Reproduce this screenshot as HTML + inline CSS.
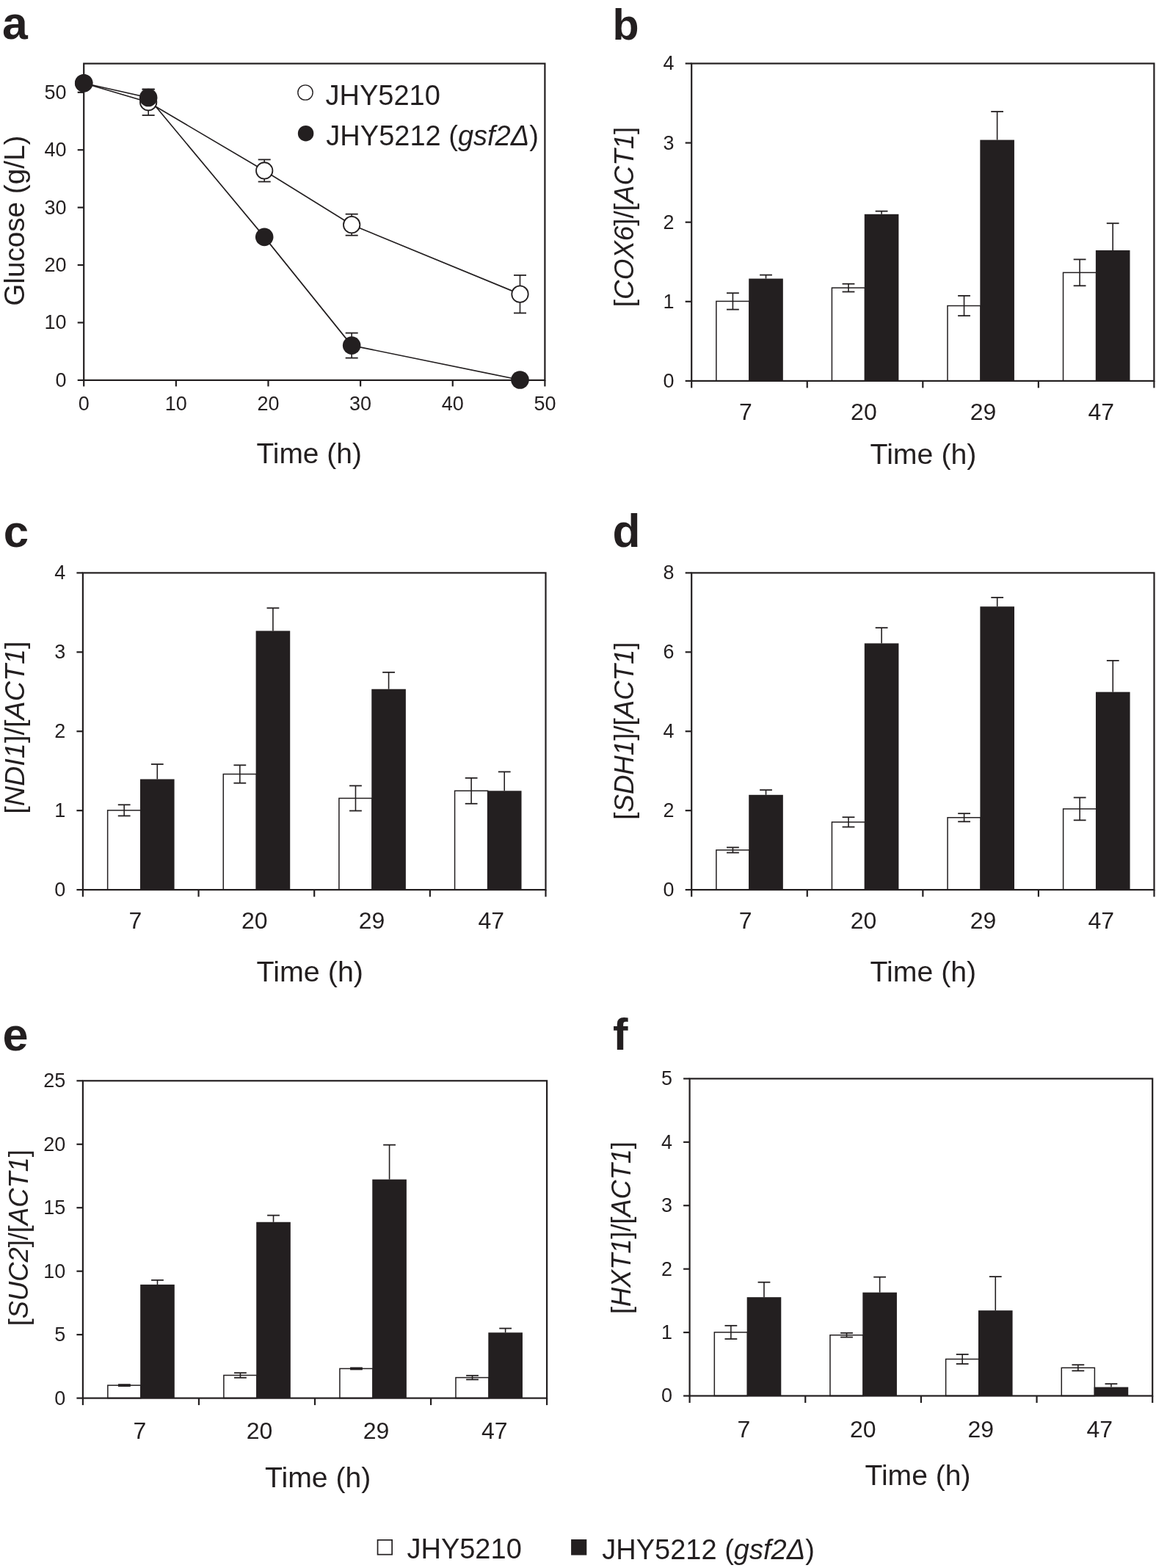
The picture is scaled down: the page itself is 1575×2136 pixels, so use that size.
<!DOCTYPE html>
<html><head><meta charset="utf-8"><title>Glucose consumption and gene expression</title>
<style>
html,body{margin:0;padding:0;background:#fff;}
svg{display:block;}
</style></head>
<body>
<svg width="1575" height="2136" viewBox="0 0 1575 2136">
<rect width="1575" height="2136" fill="#fff"/>
<g stroke="#231f20" fill="#231f20" font-family="'Liberation Sans', Arial, Helvetica, sans-serif">
<polyline points="114.20,113.26 202.15,139.30 360.20,232.46 479.18,306.17 708.48,400.66" fill="none" stroke-width="1.7"/>
<polyline points="114.20,113.26 202.15,133.02 360.20,322.87 479.18,470.61 708.48,517.51" fill="none" stroke-width="1.7"/>
<rect x="114.20" y="86.60" width="628.20" height="431.30" fill="none" stroke-width="2.2"/>
<line x1="105.70" y1="517.90" x2="114.20" y2="517.90" stroke-width="2.2"/>
<line x1="105.70" y1="439.48" x2="114.20" y2="439.48" stroke-width="2.2"/>
<line x1="105.70" y1="361.06" x2="114.20" y2="361.06" stroke-width="2.2"/>
<line x1="105.70" y1="282.65" x2="114.20" y2="282.65" stroke-width="2.2"/>
<line x1="105.70" y1="204.23" x2="114.20" y2="204.23" stroke-width="2.2"/>
<line x1="105.70" y1="125.81" x2="114.20" y2="125.81" stroke-width="2.2"/>
<line x1="114.20" y1="517.90" x2="114.20" y2="526.40" stroke-width="2.2"/>
<line x1="239.84" y1="517.90" x2="239.84" y2="526.40" stroke-width="2.2"/>
<line x1="365.48" y1="517.90" x2="365.48" y2="526.40" stroke-width="2.2"/>
<line x1="491.12" y1="517.90" x2="491.12" y2="526.40" stroke-width="2.2"/>
<line x1="616.76" y1="517.90" x2="616.76" y2="526.40" stroke-width="2.2"/>
<line x1="742.40" y1="517.90" x2="742.40" y2="526.40" stroke-width="2.2"/>
<line x1="202.15" y1="121.65" x2="202.15" y2="144.39" stroke-width="1.6"/>
<line x1="193.65" y1="121.65" x2="210.65" y2="121.65" stroke-width="1.8"/>
<line x1="193.65" y1="144.39" x2="210.65" y2="144.39" stroke-width="1.8"/>
<line x1="360.20" y1="316.60" x2="360.20" y2="329.15" stroke-width="1.6"/>
<line x1="351.70" y1="316.60" x2="368.70" y2="316.60" stroke-width="1.8"/>
<line x1="351.70" y1="329.15" x2="368.70" y2="329.15" stroke-width="1.8"/>
<line x1="479.18" y1="453.60" x2="479.18" y2="487.63" stroke-width="1.6"/>
<line x1="470.68" y1="453.60" x2="487.68" y2="453.60" stroke-width="1.8"/>
<line x1="470.68" y1="487.63" x2="487.68" y2="487.63" stroke-width="1.8"/>
<line x1="202.15" y1="121.57" x2="202.15" y2="157.02" stroke-width="1.6"/>
<line x1="193.65" y1="121.57" x2="210.65" y2="121.57" stroke-width="1.8"/>
<line x1="193.65" y1="157.02" x2="210.65" y2="157.02" stroke-width="1.8"/>
<line x1="360.20" y1="217.40" x2="360.20" y2="247.51" stroke-width="1.6"/>
<line x1="351.70" y1="217.40" x2="368.70" y2="217.40" stroke-width="1.8"/>
<line x1="351.70" y1="247.51" x2="368.70" y2="247.51" stroke-width="1.8"/>
<line x1="479.18" y1="291.66" x2="479.18" y2="320.68" stroke-width="1.6"/>
<line x1="470.68" y1="291.66" x2="487.68" y2="291.66" stroke-width="1.8"/>
<line x1="470.68" y1="320.68" x2="487.68" y2="320.68" stroke-width="1.8"/>
<line x1="708.48" y1="374.87" x2="708.48" y2="426.46" stroke-width="1.6"/>
<line x1="699.98" y1="374.87" x2="716.98" y2="374.87" stroke-width="1.8"/>
<line x1="699.98" y1="426.46" x2="716.98" y2="426.46" stroke-width="1.8"/>
<circle cx="114.20" cy="113.26" r="11.2" fill="#fff" stroke-width="1.8"/>
<circle cx="202.15" cy="139.30" r="11.2" fill="#fff" stroke-width="1.8"/>
<circle cx="360.20" cy="232.46" r="11.2" fill="#fff" stroke-width="1.8"/>
<circle cx="479.18" cy="306.17" r="11.2" fill="#fff" stroke-width="1.8"/>
<circle cx="708.48" cy="400.66" r="11.2" fill="#fff" stroke-width="1.8"/>
<circle cx="114.20" cy="113.26" r="12.3" fill="#231f20" stroke="none"/>
<circle cx="202.15" cy="133.02" r="12.3" fill="#231f20" stroke="none"/>
<circle cx="360.20" cy="322.87" r="12.3" fill="#231f20" stroke="none"/>
<circle cx="479.18" cy="470.61" r="12.3" fill="#231f20" stroke="none"/>
<circle cx="708.48" cy="517.51" r="12.3" fill="#231f20" stroke="none"/>
<circle cx="416.0" cy="126.0" r="10.15" fill="#fff" stroke-width="1.4"/>
<circle cx="416.6" cy="181.7" r="10.75" fill="#231f20" stroke="none"/>
<rect x="975.88" y="410.42" width="45.10" height="108.48" fill="#fff" stroke-width="1.5"/>
<line x1="998.43" y1="399.23" x2="998.43" y2="421.61" stroke-width="1.6"/>
<line x1="990.03" y1="399.23" x2="1006.83" y2="399.23" stroke-width="1.8"/>
<line x1="990.03" y1="421.61" x2="1006.83" y2="421.61" stroke-width="1.8"/>
<line x1="1043.53" y1="374.59" x2="1043.53" y2="379.56" stroke-width="1.6"/>
<line x1="1035.12" y1="374.59" x2="1051.93" y2="374.59" stroke-width="1.8"/>
<rect x="1020.23" y="379.56" width="46.60" height="139.34" fill="#231f20" stroke="none"/>
<rect x="1133.43" y="392.10" width="45.10" height="126.80" fill="#fff" stroke-width="1.5"/>
<line x1="1155.98" y1="386.69" x2="1155.98" y2="397.50" stroke-width="1.6"/>
<line x1="1147.58" y1="386.69" x2="1164.38" y2="386.69" stroke-width="1.8"/>
<line x1="1147.58" y1="397.50" x2="1164.38" y2="397.50" stroke-width="1.8"/>
<line x1="1201.08" y1="287.67" x2="1201.08" y2="291.78" stroke-width="1.6"/>
<line x1="1192.67" y1="287.67" x2="1209.48" y2="287.67" stroke-width="1.8"/>
<rect x="1177.78" y="291.78" width="46.60" height="227.12" fill="#231f20" stroke="none"/>
<rect x="1290.98" y="416.53" width="45.10" height="102.37" fill="#fff" stroke-width="1.5"/>
<line x1="1313.53" y1="402.91" x2="1313.53" y2="430.15" stroke-width="1.6"/>
<line x1="1305.12" y1="402.91" x2="1321.93" y2="402.91" stroke-width="1.8"/>
<line x1="1305.12" y1="430.15" x2="1321.93" y2="430.15" stroke-width="1.8"/>
<line x1="1358.62" y1="152.01" x2="1358.62" y2="190.60" stroke-width="1.6"/>
<line x1="1350.22" y1="152.01" x2="1367.03" y2="152.01" stroke-width="1.8"/>
<rect x="1335.33" y="190.60" width="46.60" height="328.30" fill="#231f20" stroke="none"/>
<rect x="1448.53" y="371.34" width="45.10" height="147.56" fill="#fff" stroke-width="1.5"/>
<line x1="1471.08" y1="353.40" x2="1471.08" y2="389.29" stroke-width="1.6"/>
<line x1="1462.67" y1="353.40" x2="1479.48" y2="353.40" stroke-width="1.8"/>
<line x1="1462.67" y1="389.29" x2="1479.48" y2="389.29" stroke-width="1.8"/>
<line x1="1516.17" y1="304.21" x2="1516.17" y2="340.97" stroke-width="1.6"/>
<line x1="1507.77" y1="304.21" x2="1524.58" y2="304.21" stroke-width="1.8"/>
<rect x="1492.88" y="340.97" width="46.60" height="177.93" fill="#231f20" stroke="none"/>
<rect x="942.20" y="86.50" width="630.20" height="432.40" fill="none" stroke-width="2.2"/>
<line x1="933.70" y1="518.90" x2="942.20" y2="518.90" stroke-width="2.2"/>
<line x1="933.70" y1="410.80" x2="942.20" y2="410.80" stroke-width="2.2"/>
<line x1="933.70" y1="302.70" x2="942.20" y2="302.70" stroke-width="2.2"/>
<line x1="933.70" y1="194.60" x2="942.20" y2="194.60" stroke-width="2.2"/>
<line x1="933.70" y1="86.50" x2="942.20" y2="86.50" stroke-width="2.2"/>
<line x1="942.20" y1="518.90" x2="942.20" y2="528.40" stroke-width="2.2"/>
<line x1="1099.75" y1="518.90" x2="1099.75" y2="528.40" stroke-width="2.2"/>
<line x1="1257.30" y1="518.90" x2="1257.30" y2="528.40" stroke-width="2.2"/>
<line x1="1414.85" y1="518.90" x2="1414.85" y2="528.40" stroke-width="2.2"/>
<line x1="1572.40" y1="518.90" x2="1572.40" y2="528.40" stroke-width="2.2"/>
<rect x="146.63" y="1103.85" width="45.10" height="108.25" fill="#fff" stroke-width="1.5"/>
<line x1="169.18" y1="1096.30" x2="169.18" y2="1111.41" stroke-width="1.6"/>
<line x1="160.78" y1="1096.30" x2="177.58" y2="1096.30" stroke-width="1.8"/>
<line x1="160.78" y1="1111.41" x2="177.58" y2="1111.41" stroke-width="1.8"/>
<line x1="214.28" y1="1041.04" x2="214.28" y2="1061.44" stroke-width="1.6"/>
<line x1="205.88" y1="1041.04" x2="222.68" y2="1041.04" stroke-width="1.8"/>
<rect x="190.98" y="1061.44" width="46.60" height="150.66" fill="#231f20" stroke="none"/>
<rect x="304.27" y="1054.53" width="45.10" height="157.57" fill="#fff" stroke-width="1.5"/>
<line x1="326.82" y1="1042.33" x2="326.82" y2="1066.73" stroke-width="1.6"/>
<line x1="318.43" y1="1042.33" x2="335.22" y2="1042.33" stroke-width="1.8"/>
<line x1="318.43" y1="1066.73" x2="335.22" y2="1066.73" stroke-width="1.8"/>
<line x1="371.93" y1="828.32" x2="371.93" y2="859.40" stroke-width="1.6"/>
<line x1="363.53" y1="828.32" x2="380.32" y2="828.32" stroke-width="1.8"/>
<rect x="348.62" y="859.40" width="46.60" height="352.70" fill="#231f20" stroke="none"/>
<rect x="461.92" y="1087.45" width="45.10" height="124.65" fill="#fff" stroke-width="1.5"/>
<line x1="484.47" y1="1070.39" x2="484.47" y2="1104.50" stroke-width="1.6"/>
<line x1="476.07" y1="1070.39" x2="492.87" y2="1070.39" stroke-width="1.8"/>
<line x1="476.07" y1="1104.50" x2="492.87" y2="1104.50" stroke-width="1.8"/>
<line x1="529.57" y1="915.85" x2="529.57" y2="938.73" stroke-width="1.6"/>
<line x1="521.17" y1="915.85" x2="537.97" y2="915.85" stroke-width="1.8"/>
<rect x="506.27" y="938.73" width="46.60" height="273.37" fill="#231f20" stroke="none"/>
<rect x="619.57" y="1077.30" width="45.10" height="134.80" fill="#fff" stroke-width="1.5"/>
<line x1="642.12" y1="1059.82" x2="642.12" y2="1094.79" stroke-width="1.6"/>
<line x1="633.73" y1="1059.82" x2="650.52" y2="1059.82" stroke-width="1.8"/>
<line x1="633.73" y1="1094.79" x2="650.52" y2="1094.79" stroke-width="1.8"/>
<line x1="687.22" y1="1051.40" x2="687.22" y2="1077.30" stroke-width="1.6"/>
<line x1="678.82" y1="1051.40" x2="695.62" y2="1051.40" stroke-width="1.8"/>
<rect x="663.92" y="1077.30" width="46.60" height="134.80" fill="#231f20" stroke="none"/>
<rect x="112.90" y="780.40" width="630.60" height="431.70" fill="none" stroke-width="2.2"/>
<line x1="104.40" y1="1212.10" x2="112.90" y2="1212.10" stroke-width="2.2"/>
<line x1="104.40" y1="1104.17" x2="112.90" y2="1104.17" stroke-width="2.2"/>
<line x1="104.40" y1="996.25" x2="112.90" y2="996.25" stroke-width="2.2"/>
<line x1="104.40" y1="888.32" x2="112.90" y2="888.32" stroke-width="2.2"/>
<line x1="104.40" y1="780.40" x2="112.90" y2="780.40" stroke-width="2.2"/>
<line x1="112.90" y1="1212.10" x2="112.90" y2="1221.60" stroke-width="2.2"/>
<line x1="270.55" y1="1212.10" x2="270.55" y2="1221.60" stroke-width="2.2"/>
<line x1="428.20" y1="1212.10" x2="428.20" y2="1221.60" stroke-width="2.2"/>
<line x1="585.85" y1="1212.10" x2="585.85" y2="1221.60" stroke-width="2.2"/>
<line x1="743.50" y1="1212.10" x2="743.50" y2="1221.60" stroke-width="2.2"/>
<rect x="975.89" y="1157.98" width="45.10" height="54.12" fill="#fff" stroke-width="1.5"/>
<line x1="998.44" y1="1154.41" x2="998.44" y2="1161.54" stroke-width="1.6"/>
<line x1="990.04" y1="1154.41" x2="1006.84" y2="1154.41" stroke-width="1.8"/>
<line x1="990.04" y1="1161.54" x2="1006.84" y2="1161.54" stroke-width="1.8"/>
<line x1="1043.54" y1="1076.17" x2="1043.54" y2="1082.81" stroke-width="1.6"/>
<line x1="1035.14" y1="1076.17" x2="1051.94" y2="1076.17" stroke-width="1.8"/>
<rect x="1020.24" y="1082.81" width="46.60" height="129.29" fill="#231f20" stroke="none"/>
<rect x="1133.46" y="1119.88" width="45.10" height="92.22" fill="#fff" stroke-width="1.5"/>
<line x1="1156.01" y1="1113.24" x2="1156.01" y2="1126.52" stroke-width="1.6"/>
<line x1="1147.61" y1="1113.24" x2="1164.41" y2="1113.24" stroke-width="1.8"/>
<line x1="1147.61" y1="1126.52" x2="1164.41" y2="1126.52" stroke-width="1.8"/>
<line x1="1201.11" y1="855.19" x2="1201.11" y2="876.40" stroke-width="1.6"/>
<line x1="1192.71" y1="855.19" x2="1209.51" y2="855.19" stroke-width="1.8"/>
<rect x="1177.81" y="876.40" width="46.60" height="335.70" fill="#231f20" stroke="none"/>
<rect x="1291.04" y="1113.73" width="45.10" height="98.37" fill="#fff" stroke-width="1.5"/>
<line x1="1313.59" y1="1108.17" x2="1313.59" y2="1119.28" stroke-width="1.6"/>
<line x1="1305.19" y1="1108.17" x2="1321.99" y2="1108.17" stroke-width="1.8"/>
<line x1="1305.19" y1="1119.28" x2="1321.99" y2="1119.28" stroke-width="1.8"/>
<line x1="1358.69" y1="813.96" x2="1358.69" y2="826.27" stroke-width="1.6"/>
<line x1="1350.29" y1="813.96" x2="1367.09" y2="813.96" stroke-width="1.8"/>
<rect x="1335.39" y="826.27" width="46.60" height="385.83" fill="#231f20" stroke="none"/>
<rect x="1448.61" y="1101.91" width="45.10" height="110.19" fill="#fff" stroke-width="1.5"/>
<line x1="1471.16" y1="1086.48" x2="1471.16" y2="1117.34" stroke-width="1.6"/>
<line x1="1462.76" y1="1086.48" x2="1479.56" y2="1086.48" stroke-width="1.8"/>
<line x1="1462.76" y1="1117.34" x2="1479.56" y2="1117.34" stroke-width="1.8"/>
<line x1="1516.26" y1="899.87" x2="1516.26" y2="942.67" stroke-width="1.6"/>
<line x1="1507.86" y1="899.87" x2="1524.66" y2="899.87" stroke-width="1.8"/>
<rect x="1492.96" y="942.67" width="46.60" height="269.43" fill="#231f20" stroke="none"/>
<rect x="942.20" y="780.40" width="630.30" height="431.70" fill="none" stroke-width="2.2"/>
<line x1="933.70" y1="1212.10" x2="942.20" y2="1212.10" stroke-width="2.2"/>
<line x1="933.70" y1="1104.17" x2="942.20" y2="1104.17" stroke-width="2.2"/>
<line x1="933.70" y1="996.25" x2="942.20" y2="996.25" stroke-width="2.2"/>
<line x1="933.70" y1="888.32" x2="942.20" y2="888.32" stroke-width="2.2"/>
<line x1="933.70" y1="780.40" x2="942.20" y2="780.40" stroke-width="2.2"/>
<line x1="942.20" y1="1212.10" x2="942.20" y2="1221.60" stroke-width="2.2"/>
<line x1="1099.78" y1="1212.10" x2="1099.78" y2="1221.60" stroke-width="2.2"/>
<line x1="1257.35" y1="1212.10" x2="1257.35" y2="1221.60" stroke-width="2.2"/>
<line x1="1414.92" y1="1212.10" x2="1414.92" y2="1221.60" stroke-width="2.2"/>
<line x1="1572.50" y1="1212.10" x2="1572.50" y2="1221.60" stroke-width="2.2"/>
<rect x="146.83" y="1887.14" width="45.10" height="17.46" fill="#fff" stroke-width="1.5"/>
<line x1="169.38" y1="1886.10" x2="169.38" y2="1888.17" stroke-width="1.6"/>
<line x1="160.97" y1="1886.10" x2="177.78" y2="1886.10" stroke-width="1.8"/>
<line x1="160.97" y1="1888.17" x2="177.78" y2="1888.17" stroke-width="1.8"/>
<line x1="214.48" y1="1743.84" x2="214.48" y2="1749.89" stroke-width="1.6"/>
<line x1="206.08" y1="1743.84" x2="222.88" y2="1743.84" stroke-width="1.8"/>
<rect x="191.18" y="1749.89" width="46.60" height="154.71" fill="#231f20" stroke="none"/>
<rect x="304.88" y="1873.47" width="45.10" height="31.13" fill="#fff" stroke-width="1.5"/>
<line x1="327.43" y1="1870.19" x2="327.43" y2="1876.76" stroke-width="1.6"/>
<line x1="319.03" y1="1870.19" x2="335.82" y2="1870.19" stroke-width="1.8"/>
<line x1="319.03" y1="1876.76" x2="335.82" y2="1876.76" stroke-width="1.8"/>
<line x1="372.53" y1="1655.60" x2="372.53" y2="1664.76" stroke-width="1.6"/>
<line x1="364.13" y1="1655.60" x2="380.93" y2="1655.60" stroke-width="1.8"/>
<rect x="349.23" y="1664.76" width="46.60" height="239.84" fill="#231f20" stroke="none"/>
<rect x="462.92" y="1864.40" width="45.10" height="40.20" fill="#fff" stroke-width="1.5"/>
<line x1="485.47" y1="1863.36" x2="485.47" y2="1865.43" stroke-width="1.6"/>
<line x1="477.07" y1="1863.36" x2="493.87" y2="1863.36" stroke-width="1.8"/>
<line x1="477.07" y1="1865.43" x2="493.87" y2="1865.43" stroke-width="1.8"/>
<line x1="530.57" y1="1559.62" x2="530.57" y2="1606.66" stroke-width="1.6"/>
<line x1="522.17" y1="1559.62" x2="538.97" y2="1559.62" stroke-width="1.8"/>
<rect x="507.27" y="1606.66" width="46.60" height="297.94" fill="#231f20" stroke="none"/>
<rect x="620.98" y="1876.59" width="45.10" height="28.01" fill="#fff" stroke-width="1.5"/>
<line x1="643.53" y1="1873.82" x2="643.53" y2="1879.35" stroke-width="1.6"/>
<line x1="635.13" y1="1873.82" x2="651.93" y2="1873.82" stroke-width="1.8"/>
<line x1="635.13" y1="1879.35" x2="651.93" y2="1879.35" stroke-width="1.8"/>
<line x1="688.62" y1="1809.58" x2="688.62" y2="1815.29" stroke-width="1.6"/>
<line x1="680.23" y1="1809.58" x2="697.02" y2="1809.58" stroke-width="1.8"/>
<rect x="665.33" y="1815.29" width="46.60" height="89.31" fill="#231f20" stroke="none"/>
<rect x="112.90" y="1472.30" width="632.20" height="432.30" fill="none" stroke-width="2.2"/>
<line x1="104.40" y1="1904.60" x2="112.90" y2="1904.60" stroke-width="2.2"/>
<line x1="104.40" y1="1818.14" x2="112.90" y2="1818.14" stroke-width="2.2"/>
<line x1="104.40" y1="1731.68" x2="112.90" y2="1731.68" stroke-width="2.2"/>
<line x1="104.40" y1="1645.22" x2="112.90" y2="1645.22" stroke-width="2.2"/>
<line x1="104.40" y1="1558.76" x2="112.90" y2="1558.76" stroke-width="2.2"/>
<line x1="104.40" y1="1472.30" x2="112.90" y2="1472.30" stroke-width="2.2"/>
<line x1="112.90" y1="1904.60" x2="112.90" y2="1914.10" stroke-width="2.2"/>
<line x1="270.95" y1="1904.60" x2="270.95" y2="1914.10" stroke-width="2.2"/>
<line x1="429.00" y1="1904.60" x2="429.00" y2="1914.10" stroke-width="2.2"/>
<line x1="587.05" y1="1904.60" x2="587.05" y2="1914.10" stroke-width="2.2"/>
<line x1="745.10" y1="1904.60" x2="745.10" y2="1914.10" stroke-width="2.2"/>
<rect x="973.33" y="1814.91" width="45.10" height="86.59" fill="#fff" stroke-width="1.5"/>
<line x1="995.88" y1="1805.83" x2="995.88" y2="1823.98" stroke-width="1.6"/>
<line x1="987.48" y1="1805.83" x2="1004.28" y2="1805.83" stroke-width="1.8"/>
<line x1="987.48" y1="1823.98" x2="1004.28" y2="1823.98" stroke-width="1.8"/>
<line x1="1040.98" y1="1746.72" x2="1040.98" y2="1767.12" stroke-width="1.6"/>
<line x1="1032.58" y1="1746.72" x2="1049.38" y2="1746.72" stroke-width="1.8"/>
<rect x="1017.68" y="1767.12" width="46.60" height="134.38" fill="#231f20" stroke="none"/>
<rect x="1130.98" y="1818.71" width="45.10" height="82.79" fill="#fff" stroke-width="1.5"/>
<line x1="1153.53" y1="1815.86" x2="1153.53" y2="1821.56" stroke-width="1.6"/>
<line x1="1145.12" y1="1815.86" x2="1161.93" y2="1815.86" stroke-width="1.8"/>
<line x1="1145.12" y1="1821.56" x2="1161.93" y2="1821.56" stroke-width="1.8"/>
<line x1="1198.62" y1="1739.64" x2="1198.62" y2="1760.64" stroke-width="1.6"/>
<line x1="1190.22" y1="1739.64" x2="1207.03" y2="1739.64" stroke-width="1.8"/>
<rect x="1175.33" y="1760.64" width="46.60" height="140.86" fill="#231f20" stroke="none"/>
<rect x="1288.62" y="1851.46" width="45.10" height="50.04" fill="#fff" stroke-width="1.5"/>
<line x1="1311.17" y1="1844.98" x2="1311.17" y2="1857.94" stroke-width="1.6"/>
<line x1="1302.77" y1="1844.98" x2="1319.58" y2="1844.98" stroke-width="1.8"/>
<line x1="1302.77" y1="1857.94" x2="1319.58" y2="1857.94" stroke-width="1.8"/>
<line x1="1356.27" y1="1739.12" x2="1356.27" y2="1785.18" stroke-width="1.6"/>
<line x1="1347.87" y1="1739.12" x2="1364.67" y2="1739.12" stroke-width="1.8"/>
<rect x="1332.97" y="1785.18" width="46.60" height="116.32" fill="#231f20" stroke="none"/>
<rect x="1446.28" y="1863.30" width="45.10" height="38.20" fill="#fff" stroke-width="1.5"/>
<line x1="1468.83" y1="1859.24" x2="1468.83" y2="1867.36" stroke-width="1.6"/>
<line x1="1460.42" y1="1859.24" x2="1477.23" y2="1859.24" stroke-width="1.8"/>
<line x1="1460.42" y1="1867.36" x2="1477.23" y2="1867.36" stroke-width="1.8"/>
<line x1="1513.92" y1="1885.17" x2="1513.92" y2="1889.57" stroke-width="1.6"/>
<line x1="1505.52" y1="1885.17" x2="1522.33" y2="1885.17" stroke-width="1.8"/>
<rect x="1490.62" y="1889.57" width="46.60" height="11.93" fill="#231f20" stroke="none"/>
<rect x="939.60" y="1469.40" width="630.60" height="432.10" fill="none" stroke-width="2.2"/>
<line x1="931.10" y1="1901.50" x2="939.60" y2="1901.50" stroke-width="2.2"/>
<line x1="931.10" y1="1815.08" x2="939.60" y2="1815.08" stroke-width="2.2"/>
<line x1="931.10" y1="1728.66" x2="939.60" y2="1728.66" stroke-width="2.2"/>
<line x1="931.10" y1="1642.24" x2="939.60" y2="1642.24" stroke-width="2.2"/>
<line x1="931.10" y1="1555.82" x2="939.60" y2="1555.82" stroke-width="2.2"/>
<line x1="931.10" y1="1469.40" x2="939.60" y2="1469.40" stroke-width="2.2"/>
<line x1="939.60" y1="1901.50" x2="939.60" y2="1911.00" stroke-width="2.2"/>
<line x1="1097.25" y1="1901.50" x2="1097.25" y2="1911.00" stroke-width="2.2"/>
<line x1="1254.90" y1="1901.50" x2="1254.90" y2="1911.00" stroke-width="2.2"/>
<line x1="1412.55" y1="1901.50" x2="1412.55" y2="1911.00" stroke-width="2.2"/>
<line x1="1570.20" y1="1901.50" x2="1570.20" y2="1911.00" stroke-width="2.2"/>
<rect x="514.55" y="2097.85" width="19.6" height="19.8" fill="#fff" stroke-width="1.7"/>
<rect x="778.1" y="2097" width="21.2" height="21.5" fill="#231f20" stroke="none"/>
<g stroke="none">
<text x="90.60" y="526.87" font-size="27.0" text-anchor="end">0</text>
<text x="90.60" y="448.45" font-size="27.0" text-anchor="end">10</text>
<text x="90.60" y="370.03" font-size="27.0" text-anchor="end">20</text>
<text x="90.60" y="291.61" font-size="27.0" text-anchor="end">30</text>
<text x="90.60" y="213.19" font-size="27.0" text-anchor="end">40</text>
<text x="90.60" y="134.78" font-size="27.0" text-anchor="end">50</text>
<text x="114.20" y="558.50" font-size="27.0" text-anchor="middle">0</text>
<text x="239.84" y="558.50" font-size="27.0" text-anchor="middle">10</text>
<text x="365.48" y="558.50" font-size="27.0" text-anchor="middle">20</text>
<text x="491.12" y="558.50" font-size="27.0" text-anchor="middle">30</text>
<text x="616.76" y="558.50" font-size="27.0" text-anchor="middle">40</text>
<text x="742.40" y="558.50" font-size="27.0" text-anchor="middle">50</text>
<text x="443.50" y="142.65" font-size="38.0" text-anchor="start">JHY5210</text>
<text x="444.35" y="197.55" font-size="38.0" text-anchor="start">JHY5212 (<tspan font-style="italic">gsf2Δ</tspan>)</text>
<text x="421.20" y="631.15" font-size="38.95" text-anchor="middle">Time (h)</text>
<text transform="translate(32.85,300.70) rotate(-90)" font-size="38.68" text-anchor="middle">Glucose (g/L)</text>
<text x="2.95" y="53.25" font-size="62.56" text-anchor="start" font-weight="bold">a</text>
<text x="918.60" y="527.87" font-size="27.0" text-anchor="end">0</text>
<text x="918.60" y="419.77" font-size="27.0" text-anchor="end">1</text>
<text x="918.60" y="311.67" font-size="27.0" text-anchor="end">2</text>
<text x="918.60" y="203.57" font-size="27.0" text-anchor="end">3</text>
<text x="918.60" y="95.47" font-size="27.0" text-anchor="end">4</text>
<text x="1015.80" y="571.75" font-size="32.0" text-anchor="middle">7</text>
<text x="1176.90" y="571.75" font-size="32.0" text-anchor="middle">20</text>
<text x="1339.60" y="571.75" font-size="32.0" text-anchor="middle">29</text>
<text x="1500.30" y="571.75" font-size="32.0" text-anchor="middle">47</text>
<text x="1258.00" y="631.70" font-size="39.31" text-anchor="middle">Time (h)</text>
<text transform="translate(862.55,295.40) rotate(-90)" font-size="36.82" text-anchor="middle">[<tspan font-style="italic">COX6</tspan>]/[<tspan font-style="italic">ACT1</tspan>]</text>
<text x="834.45" y="53.55" font-size="59.05" text-anchor="start" font-weight="bold">b</text>
<text x="89.30" y="1221.07" font-size="27.0" text-anchor="end">0</text>
<text x="89.30" y="1113.14" font-size="27.0" text-anchor="end">1</text>
<text x="89.30" y="1005.22" font-size="27.0" text-anchor="end">2</text>
<text x="89.30" y="897.29" font-size="27.0" text-anchor="end">3</text>
<text x="89.30" y="789.37" font-size="27.0" text-anchor="end">4</text>
<text x="184.40" y="1265.15" font-size="32.0" text-anchor="middle">7</text>
<text x="346.70" y="1265.15" font-size="32.0" text-anchor="middle">20</text>
<text x="506.50" y="1265.15" font-size="32.0" text-anchor="middle">29</text>
<text x="669.30" y="1265.15" font-size="32.0" text-anchor="middle">47</text>
<text x="422.30" y="1336.85" font-size="39.48" text-anchor="middle">Time (h)</text>
<text transform="translate(32.55,991.10) rotate(-90)" font-size="37.85" text-anchor="middle">[<tspan font-style="italic">NDI1</tspan>]/[<tspan font-style="italic">ACT1</tspan>]</text>
<text x="4.65" y="744.75" font-size="61.76" text-anchor="start" font-weight="bold">c</text>
<text x="918.60" y="1221.07" font-size="27.0" text-anchor="end">0</text>
<text x="918.60" y="1113.14" font-size="27.0" text-anchor="end">2</text>
<text x="918.60" y="1005.22" font-size="27.0" text-anchor="end">4</text>
<text x="918.60" y="897.29" font-size="27.0" text-anchor="end">6</text>
<text x="918.60" y="789.37" font-size="27.0" text-anchor="end">8</text>
<text x="1015.60" y="1265.15" font-size="32.0" text-anchor="middle">7</text>
<text x="1176.50" y="1265.15" font-size="32.0" text-anchor="middle">20</text>
<text x="1339.60" y="1265.15" font-size="32.0" text-anchor="middle">29</text>
<text x="1500.30" y="1265.15" font-size="32.0" text-anchor="middle">47</text>
<text x="1257.80" y="1336.85" font-size="39.25" text-anchor="middle">Time (h)</text>
<text transform="translate(862.70,995.60) rotate(-90)" font-size="36.64" text-anchor="middle">[<tspan font-style="italic">SDH1</tspan>]/[<tspan font-style="italic">ACT1</tspan>]</text>
<text x="834.50" y="744.80" font-size="62.24" text-anchor="start" font-weight="bold">d</text>
<text x="89.30" y="1913.57" font-size="27.0" text-anchor="end">0</text>
<text x="89.30" y="1827.11" font-size="27.0" text-anchor="end">5</text>
<text x="89.30" y="1740.65" font-size="27.0" text-anchor="end">10</text>
<text x="89.30" y="1654.19" font-size="27.0" text-anchor="end">15</text>
<text x="89.30" y="1567.73" font-size="27.0" text-anchor="end">20</text>
<text x="89.30" y="1481.27" font-size="27.0" text-anchor="end">25</text>
<text x="190.50" y="1959.95" font-size="32.0" text-anchor="middle">7</text>
<text x="353.60" y="1959.95" font-size="32.0" text-anchor="middle">20</text>
<text x="512.50" y="1959.95" font-size="32.0" text-anchor="middle">29</text>
<text x="673.70" y="1959.95" font-size="32.0" text-anchor="middle">47</text>
<text x="433.20" y="2025.85" font-size="39.2" text-anchor="middle">Time (h)</text>
<text transform="translate(37.80,1686.20) rotate(-90)" font-size="36.34" text-anchor="middle">[<tspan font-style="italic">SUC2</tspan>]/[<tspan font-style="italic">ACT1</tspan>]</text>
<text x="3.40" y="1431.45" font-size="62.95" text-anchor="start" font-weight="bold">e</text>
<text x="916.00" y="1910.47" font-size="27.0" text-anchor="end">0</text>
<text x="916.00" y="1824.05" font-size="27.0" text-anchor="end">1</text>
<text x="916.00" y="1737.63" font-size="27.0" text-anchor="end">2</text>
<text x="916.00" y="1651.21" font-size="27.0" text-anchor="end">3</text>
<text x="916.00" y="1564.79" font-size="27.0" text-anchor="end">4</text>
<text x="916.00" y="1478.37" font-size="27.0" text-anchor="end">5</text>
<text x="1013.50" y="1957.60" font-size="32.0" text-anchor="middle">7</text>
<text x="1175.70" y="1957.60" font-size="32.0" text-anchor="middle">20</text>
<text x="1336.30" y="1957.60" font-size="32.0" text-anchor="middle">29</text>
<text x="1498.30" y="1957.60" font-size="32.0" text-anchor="middle">47</text>
<text x="1250.50" y="2023.10" font-size="39.06" text-anchor="middle">Time (h)</text>
<text transform="translate(859.15,1672.60) rotate(-90)" font-size="36.15" text-anchor="middle">[<tspan font-style="italic">HXT1</tspan>]/[<tspan font-style="italic">ACT1</tspan>]</text>
<text x="834.95" y="1429.65" font-size="61.57" text-anchor="start" font-weight="bold">f</text>
<text x="554.45" y="2122.90" font-size="38.0" text-anchor="start">JHY5210</text>
<text x="820.30" y="2124.00" font-size="38.0" text-anchor="start">JHY5212 (<tspan font-style="italic">gsf2Δ</tspan>)</text>
</g>
</g>
</svg>
</body></html>
